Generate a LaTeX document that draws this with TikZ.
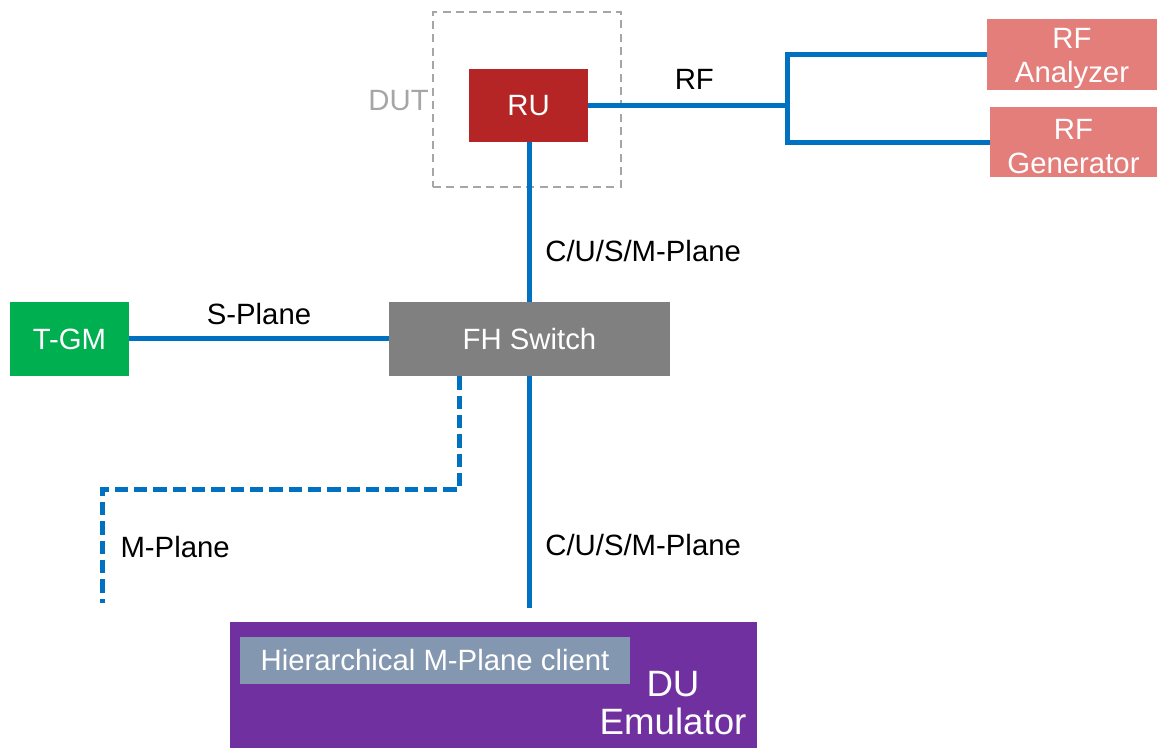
\documentclass[tikz,border=0pt]{standalone}
\usepackage{fontspec}
\setmainfont{Liberation Sans}
\usetikzlibrary{positioning}

\definecolor{linkblue}{HTML}{0070C0}
\definecolor{rured}{HTML}{B52525}
\definecolor{rfpink}{HTML}{E37E7B}
\definecolor{gmgreen}{HTML}{00B050}
\definecolor{fhgray}{HTML}{808080}
\definecolor{dupurple}{HTML}{7030A0}
\definecolor{clientgray}{HTML}{8497B0}
\definecolor{dutgray}{HTML}{A6A6A6}

\begin{document}
\begin{tikzpicture}[
  x=0.75pt, y=-0.75pt,
  box/.style={inner sep=0pt, text=white, align=center, font=\fontsize{22}{25.5}\selectfont},
  lbl/.style={inner sep=0pt, text=black, font=\fontsize{22}{25.5}\selectfont},
  link/.style={linkblue, line width=3.75pt},
  mplane/.style={linkblue, line width=3.75pt, dash pattern=on 10pt off 4.5pt}
]
\useasboundingbox (0,0) rectangle (1157,748);

\node[draw=dutgray, line width=1.5pt, dash pattern=on 6pt off 4pt, minimum width=141pt, minimum height=131.25pt] (dut) at (527,99.5) {};
\node[lbl, text=dutgray, anchor=east] (dutlbl) at (429,101) {DUT};
\node[box, fill=rured, minimum width=89.25pt, minimum height=54.75pt] (ru) at (528.5,105.5) {RU};
\node[box, fill=rfpink, minimum width=127.5pt, minimum height=53.25pt] (rfa) at (1072,54.5) {};
\node[box] (rfalbl) at ([yshift=-3pt]rfa) {RF\\Analyzer};
\node[box, fill=rfpink, minimum width=125.25pt, minimum height=52.5pt] (rfg) at (1073.5,142.5) {};
\node[box] (rfglbl) at ([yshift=-3pt]rfg) {RF\\Generator};
\node[box, fill=gmgreen, minimum width=89.25pt, minimum height=55.5pt] (tgm) at (69.5,339) {T-GM};
\node[box, fill=fhgray, minimum width=210.75pt, minimum height=55.5pt] (fh) at (529.5,339) {FH Switch};
\node[fill=dupurple, inner sep=0pt, minimum width=395.25pt, minimum height=94.5pt] (du) at (493.5,685) {};
\node[box, fill=clientgray, minimum width=292.5pt, minimum height=35.25pt] (client) at (435,660.5) {Hierarchical M-Plane client};
\node[box, font=\fontsize{27.5}{29}\selectfont] (dulbl) at (673,703) {DU\\Emulator};

\coordinate (rfsplit) at (787,105.5);
\coordinate (mpend) at (102,603);

\draw[link] (ru.east) -- node[lbl, above=10.25pt, xshift=5pt]{RF} (rfsplit);
\draw[link] (rfa.west) -| (rfsplit) |- (rfg.west);
\draw[link] (ru.south -| fh.north) -- node[lbl, right=10pt, pos=0.68]{C/U/S/M-Plane} (fh.north);
\draw[link] (tgm.east) -- node[lbl, above=9pt]{S-Plane} (fh.west);
\draw[link, shorten >=10.5pt] (fh.south) -- node[lbl, right=10pt, pos=0.687]{C/U/S/M-Plane} (fh.south |- du.north);
\draw[mplane] ([xshift=-52.5pt]fh.south) -- ++(0,113) -| node[lbl, right=12pt, pos=0.754]{M-Plane} (mpend);

\end{tikzpicture}
\end{document}
